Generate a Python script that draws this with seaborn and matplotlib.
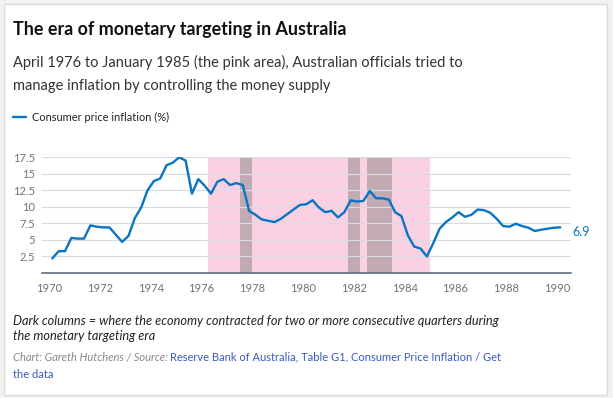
import matplotlib
matplotlib.use("Agg")
import matplotlib.pyplot as plt
import numpy as np
import pandas as pd
import seaborn as sns
from matplotlib.lines import Line2D
from matplotlib.patches import Rectangle

# ── Data (year-ended CPI inflation, quarterly, Mar 1970 – Mar 1990) ───────────
START_YEAR = 1970
inflation = [
    2.2, 3.3, 3.3, 5.3, 5.2, 5.2, 7.2, 7.0, 6.9, 6.9,
    5.8, 4.7, 5.6, 8.3, 9.9, 12.5, 13.9, 14.3, 16.3, 16.7,
    17.5, 17.0, 12.0, 14.2, 13.2, 12.0, 13.8, 14.2, 13.3, 13.6,
    13.3, 9.4, 8.8, 8.1, 7.9, 7.7, 8.2, 8.9, 9.6, 10.3,
    10.4, 11.0, 9.9, 9.2, 9.4, 8.4, 9.2, 11.0, 10.8, 10.9,
    12.4, 11.3, 11.3, 11.1, 9.2, 8.6, 5.7, 4.0, 3.7, 2.5,
    4.5, 6.7, 7.7, 8.4, 9.2, 8.5, 8.8, 9.6, 9.5, 9.1,
    8.2, 7.1, 7.0, 7.45, 7.1, 6.85, 6.35, 6.55, 6.7, 6.85,
    6.9,
]
targeting_era = (1976.25, 1985.0)
contractions = [(1977.5, 1978.0), (1981.75, 1982.25), (1982.5, 1983.5)]
x_ticks = list(range(1970, 1991, 2))
y_ticks = [2.5, 5, 7.5, 10, 12.5, 15, 17.5]
last_label = "6.9"

df = pd.DataFrame({
    "year": START_YEAR + np.arange(len(inflation)) / 4 + 0.125,
    "inflation": inflation,
})

BLUE = "#0a74c4"
PINK = "#f9d1e3"
DARK = "#c1aab2"
GRID = "#d7dce4"
TICK = "#727272"
FONT = "Lato"

W, H = 613, 398
sns.set_theme(style="white")
plt.rcParams["font.family"] = [FONT, "DejaVu Sans"]

fig = plt.figure(figsize=(W / 100, H / 100), dpi=100)
fig.patch.set_facecolor("#f2f2f2")
fig.add_artist(Rectangle((4 / W, 3 / H), 603 / W, 391 / H, transform=fig.transFigure,
                         facecolor="white", edgecolor="#dcdcdc", lw=1, zorder=-10))


def px(x, y):
    return x / W, 1 - y / H


# ── Chart ─────────────────────────────────────────────────────────────────────
ax = fig.add_axes([42 / W, 1 - 273 / H, (571 - 42) / W, (273 - 157.3) / H])
ax.set_facecolor("none")
ax.axvspan(*targeting_era, color=PINK, lw=0, zorder=0)
for a, b in contractions:
    ax.axvspan(a, b, color=DARK, lw=0, zorder=0.5)
for v in y_ticks:
    ax.axhline(v, color=GRID, lw=0.9, zorder=1)

sns.lineplot(data=df, x="year", y="inflation", color=BLUE, lw=1.7, ax=ax, zorder=3)

ax.set_xlim(1969.72, 1990.55)
ax.set_ylim(0, 17.5)
ax.set_xticks(x_ticks)
ax.set_yticks(y_ticks)
ax.set_yticklabels([f"{v:g}" for v in y_ticks])
ax.set_xlabel("")
ax.set_ylabel("")
ax.tick_params(axis="both", length=0, labelsize=8, labelcolor=TICK)
ax.tick_params(axis="x", pad=7)
ax.tick_params(axis="y", pad=5)
for s in ["top", "right", "left"]:
    ax.spines[s].set_visible(False)
ax.spines["bottom"].set_color("#5d6b7e")
ax.spines["bottom"].set_linewidth(1.2)

ax.annotate(last_label, xy=(df["year"].iloc[-1], df["inflation"].iloc[-1]),
            xytext=(9, -3), textcoords="offset points", color=BLUE,
            fontsize=9, va="center", ha="left")

# ── Titles and legend ─────────────────────────────────────────────────────────
fig.text(*px(13, 29), "The era of monetary targeting in Australia",
         fontsize=12.85, fontweight="bold", color="#111111", va="center")
fig.text(*px(13, 62), "April 1976 to January 1985 (the pink area), Australian officials tried to",
         fontsize=10.5, color="#333333", va="center")
fig.text(*px(13, 86), "manage inflation by controlling the money supply",
         fontsize=10.5, color="#333333", va="center")
fig.add_artist(Line2D([13 / W, 26 / W], [1 - 117 / H] * 2, color=BLUE, lw=1.7))
fig.text(*px(32, 117), "Consumer price inflation (%)", fontsize=7.9,
         color="#222222", va="center")

# ── Notes ─────────────────────────────────────────────────────────────────────
fig.text(*px(13, 321), "Dark columns = where the economy contracted for two or more "
         "consecutive quarters during", fontsize=9.2, style="italic",
         color="#222222", va="center")
fig.text(*px(13, 336), "the monetary targeting era", fontsize=9.2, style="italic",
         color="#222222", va="center")

renderer = fig.canvas.get_renderer()
t1 = fig.text(*px(13, 357), "Chart: Gareth Hutchens / Source: ", fontsize=8,
              style="italic", color="#8a8a8a", va="center")
x1 = t1.get_window_extent(renderer).x1 / W
fig.text(x1, 1 - 357 / H, "Reserve Bank of Australia, Table G1, Consumer Price Inflation / Get",
         fontsize=8, color="#3a5bbf", va="center")
fig.text(*px(13, 375), "the data", fontsize=8, color="#3a5bbf", va="center")

fig.savefig("out.png", dpi=100)
